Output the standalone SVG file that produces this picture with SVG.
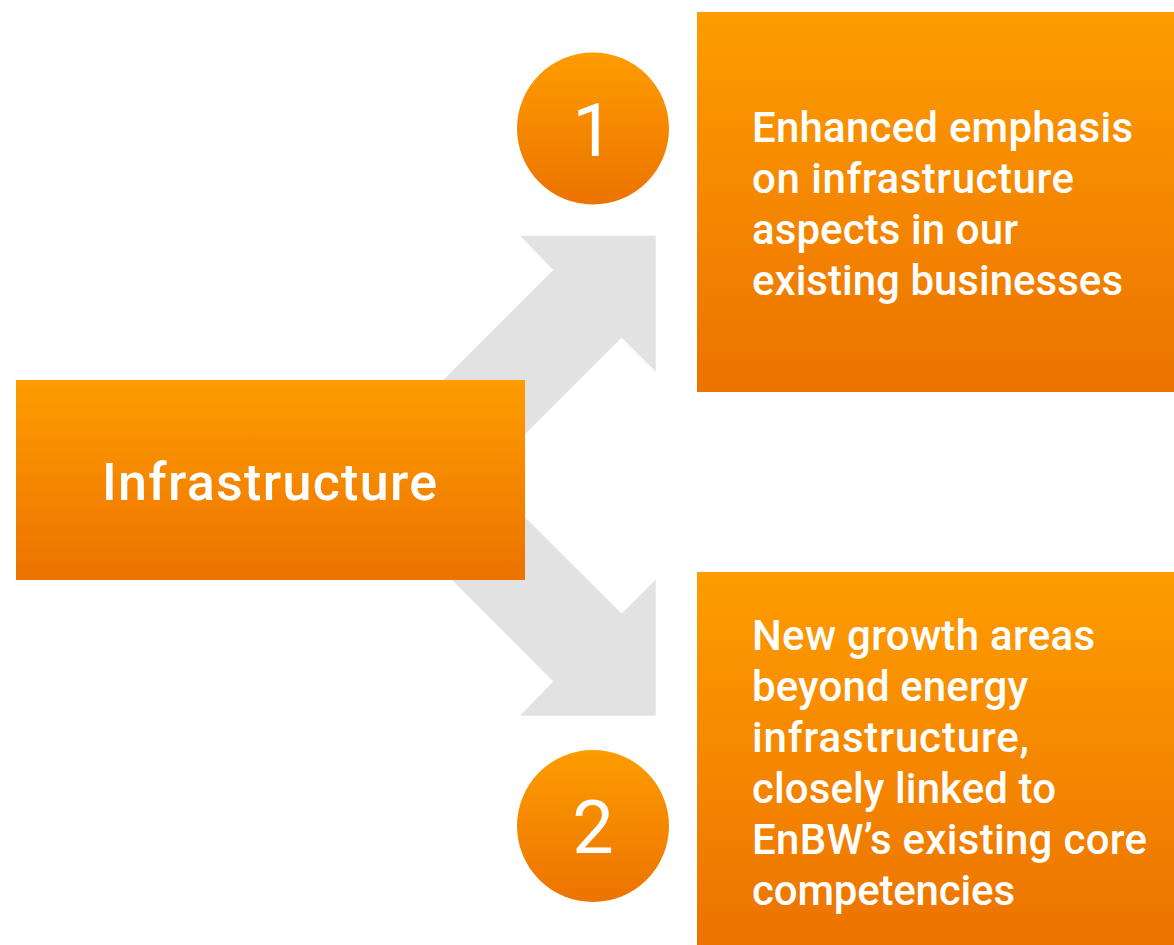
<svg xmlns="http://www.w3.org/2000/svg" width="1174" height="945" viewBox="0 0 1174 945">
  <defs>
    <linearGradient id="orange" x1="0" y1="0" x2="0" y2="1">
      <stop offset="0" stop-color="#fe9c00"/>
      <stop offset="1" stop-color="#ec7300"/>
    </linearGradient>
    <style>
      .box { fill: url(#orange); }
      .arrow { fill: #e2e2e2; }
      .label { fill: #ffffff; font-family: Roboto, "Liberation Sans", sans-serif; font-weight: 500; }
      .body { font-size: 42px; }
      .title { font-size: 52px; }
      .num { font-size: 74px; font-weight: 400; text-anchor: middle; }
    </style>
  </defs>
  <rect width="1174" height="945" fill="#ffffff"/>

  <!-- connectors: broad grey arrows from the source box -->
  <g id="connectors">
    <polygon class="arrow" points="520,235.7 655.7,235.7 655.7,371.7 621.7,337.7 468,491.3 400,423.3 553.3,270"/>
    <polygon class="arrow" points="520,715.7 655.7,715.7 655.7,579.7 621.7,613.7 468,460.1 400,528.1 553.3,681.4"/>
  </g>

  <g id="source">
    <rect class="box" x="16" y="380" width="509" height="200"/>
    <text class="label title" x="102" y="500" textLength="335" lengthAdjust="spacing">Infrastructure</text>
  </g>

  <g id="badge-1">
    <circle class="box" cx="593" cy="128.5" r="76"/>
    <text class="label num" x="593" y="156">1</text>
  </g>

  <g id="target-1">
    <rect class="box" x="697" y="12" width="477" height="380"/>
    <text class="label body" x="752" y="142" textLength="381" lengthAdjust="spacing">Enhanced emphasis</text>
    <text class="label body" x="752" y="193" textLength="322" lengthAdjust="spacing">on infrastructure</text>
    <text class="label body" x="752" y="244" textLength="266" lengthAdjust="spacing">aspects in our</text>
    <text class="label body" x="752" y="295" textLength="371" lengthAdjust="spacing">existing businesses</text>
  </g>

  <g id="badge-2">
    <circle class="box" cx="593" cy="826" r="76"/>
    <text class="label num" x="593" y="853">2</text>
  </g>

  <g id="target-2">
    <rect class="box" x="697" y="572" width="477" height="373"/>
    <text class="label body" x="752" y="650" textLength="343" lengthAdjust="spacing">New growth areas</text>
    <text class="label body" x="752" y="701" textLength="276" lengthAdjust="spacing">beyond energy</text>
    <text class="label body" x="752" y="752" textLength="277" lengthAdjust="spacing">infrastructure,</text>
    <text class="label body" x="752" y="803" textLength="304" lengthAdjust="spacing">closely linked to</text>
    <text class="label body" x="752" y="854" textLength="395" lengthAdjust="spacing">EnBW’s existing core</text>
    <text class="label body" x="752" y="905" textLength="263" lengthAdjust="spacing">competencies</text>
  </g>
</svg>
